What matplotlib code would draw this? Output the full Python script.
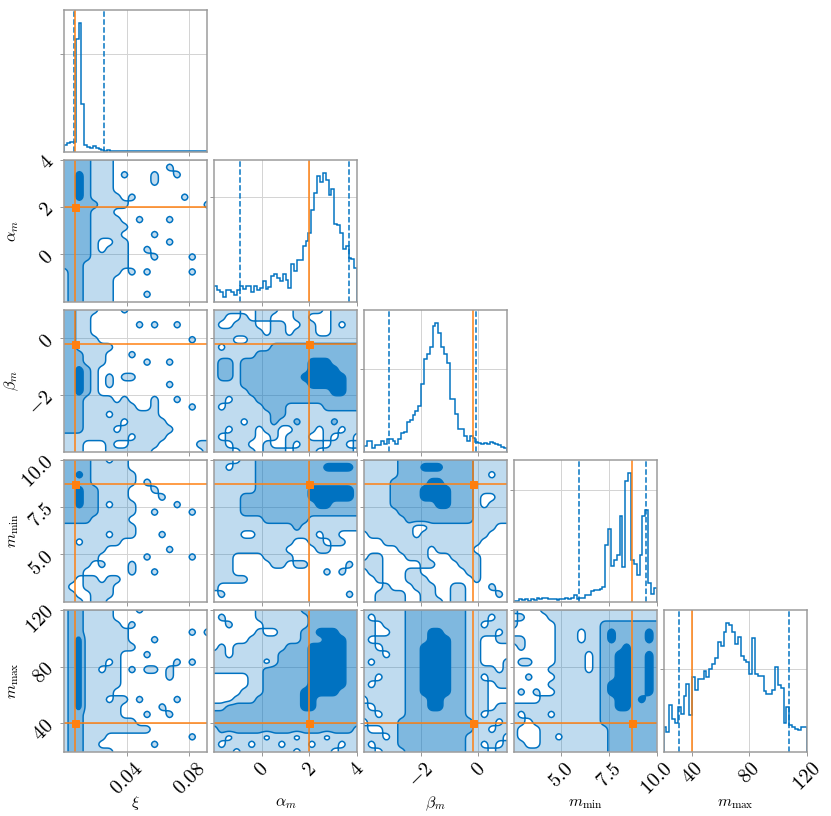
import numpy as np
import matplotlib
matplotlib.use("Agg")
import matplotlib.pyplot as plt
from matplotlib.colors import to_rgba

plt.rcParams['mathtext.fontset'] = 'cm'
plt.rcParams['font.family'] = ['DejaVu Serif']

# ---------------- data ----------------
labels = [r"$\xi$", r"$\alpha_m$", r"$\beta_m$", r"$m_{\mathrm{min}}$", r"$m_{\mathrm{max}}$"]
ranges = [(0.0, 0.0915), (-2.0, 4.0), (-4.0, 1.0), (2.5, 10.0), (20.0, 120.0)]
truths = [0.0071, 2.0, -0.2, 8.7, 40.0]
quantile_lo = [0.0062, -0.91, -3.12, 5.94, 31.1]
quantile_hi = [0.0253, 3.66, -0.08, 9.46, 107.6]
ticks = [[0.04, 0.08], [0, 2, 4], [-2, 0], [5.0, 7.5, 10.0], [40, 80, 120]]
tick_labels = [["0.04", "0.08"], ["0", "2", "4"], ["-2", "0"], ["5.0", "7.5", "10.0"], ["40", "80", "120"]]

hist_xi = [5.2, 6.5, 7.3, 7.8, 87, 100, 36.9, 5.2, 3.9, 3.1, 4.2, 3.1, 1.8, 1.3, 1.0, 1.3, 0.8, 1.0, 0.5, 0.8,
           0.5, 0.5, 0.3, 0.5, 0.8, 0.3, 0.5, 0.3, 0.3, 0.5, 0.3, 0.5, 0.8, 0.3, 0.5, 0.3, 0.3, 0.3, 0.3, 0.5,
           0.3, 0.3, 0.3, 0.5, 0.3, 0.3, 0.3, 0.3, 0.5, 0.3]
hist_alpha = [12.4, 9, 7.7, 3.9, 9, 9, 7.7, 5.2, 9, 12.4, 10.3, 12.4, 12.4, 7.7, 12.4, 9, 10.8, 16.5, 10.3, 11.6,
              20, 21.6, 18.6, 16, 21.9, 16.8, 10.8, 29.6, 23.7, 32.2, 32.2, 43.3, 46.9, 53.6, 70.9, 84.3, 97.4,
              92.8, 100, 94, 83, 87.1, 60.6, 59.3, 53.6, 40.7, 43.3, 34, 33, 26.3]
hist_beta = [4.6, 8.5, 8.5, 2.6, 5.2, 5.2, 8.5, 5.9, 10.3, 9.8, 8.5, 5.9, 10.3, 14.9, 15.5, 22.7, 24.5, 28.4, 31.4,
             35.3, 52.3, 72.2, 76, 81.2, 97.4, 100, 92.3, 81.2, 76, 69, 40.7, 40.7, 29.6, 17.5, 17.5, 12.4, 8.2,
             12.4, 11, 7.7, 7.2, 6.2, 7.2, 5.7, 7.7, 7.2, 5.7, 5.2, 4.1, 2.6]
hist_mmin = [1, 1, 2, 1.3, 1.8, 1, 1.8, 1.5, 3, 2, 2.6, 2.6, 2, 2, 1.8, 1.5, 1.8, 2, 2.6, 2, 3, 5.6, 2, 2.6, 2.6,
             5.1, 5.1, 8.2, 8.9, 8.9, 9.7, 11.5, 43.9, 56.1, 28, 32.7, 36.2, 66.8, 26.8, 93.9, 100, 32.7, 29.3,
             20.9, 36.2, 66.8, 71.4, 14.8, 6.4, 10.7]
hist_mmax = [19.5, 15.4, 35.9, 25.6, 22.6, 34.9, 29, 43.6, 52.8, 28.2, 57.9, 47.7, 56.4, 56.4, 62.3, 57.9, 64.1,
             68.2, 72.6, 85.4, 82, 93, 100, 98.2, 93, 83.6, 89.2, 74.4, 70.8, 69.2, 60.5, 88, 60.5, 58.5, 58.5,
             46.9, 45.1, 45.1, 47.7, 65.6, 52, 49.5, 22, 34.9, 20.5, 19.5, 17.9, 16.9, 19.5, 19.5]
hist_ytick = [76, 81.4, 64.5, 86.7, 64.4]

# credible-region level maps (0 = outside, 1/2/3 = increasing density), top row first
grid_xi_alpha = [
    "22221110000000000000", "22221110000000100000", "22321110100010010000", "22321110000010000000",
    "22321110000000000000", "22321111010000001000", "22222111100000000001", "22221110000000000000",
    "22221111001000100000", "22221111100000000000", "22221111000010000000", "22221001100000100000",
    "22221011100100000000", "22221111100010000100", "22211111100000000000", "12211111010100000100",
    "12211110000000000000", "12211110000000000000", "12211110000100000000", "12211110000000000000"]
grid_xi_beta = [
    "22111000100000000000", "22110000000000000000", "22110000001010010000", "22110000000000000000",
    "22111000000000000100", "22111110000000000000", "22211100010000000000", "22211100000100100000",
    "22321000000000000000", "22321010110000000000", "22321010000000100000", "22321000000000000000",
    "22211110100010010000", "22211111110010000100", "22211101111110000000", "22211111011111000000",
    "22211110111111100000", "11111111101111000000", "11100010011110000011", "11100011111100000001"]
grid_alpha_beta = [
    "11110011100111101111", "11001011000110001111", "10011100110011001011", "11111110110111001111",
    "11100111111111111111", "10111111222222222222", "11111122222222222222", "12212222222223332222",
    "12212222222223333222", "12212222222233333322", "11112222222223333322", "11111222222222223322",
    "11011122222222222222", "10111112221111122222", "11111111221111111111", "11110111211211112111",
    "11011101100111011011", "10111100101110010110", "11011001001011101101", "11101101110111011110"]
grid_xi_mmin = [
    "22221101100000000000", "22221111100000000000", "22321111110000000000", "22221111110100000000",
    "22322111100010000000", "22322111100001000000", "22322101110000010000", "22222111110010000100",
    "22221111100000000000", "11111111110000000000", "11111101110001000000", "11011111000000000000",
    "11111100000000100000", "11111000000100000100", "11110100010000000000", "11100000010010000000",
    "11011011000000000000", "10011110000000000000", "11001110000000000000", "11101100000000000000"]
grid_alpha_mmin = [
    "11101122222222222222", "11011122222222233332", "11111122222222222222", "11111122222222222222",
    "11111122222223333332", "11112222222223333332", "11112222222222332222", "11112222222222222222",
    "11111112222221111111", "11111111111211111111", "11110011111111011000", "11111111111001101100",
    "11111111110000110000", "11100001111000000000", "11100000110110000010", "11100000000000010100",
    "11111000000000000000", "10000000000000000000", "01000000000000000010", "00000000000000000000"]
grid_beta_mmin = [
    "11111222222222211111", "11111222333222211111", "11111222222222211011", "11112222233222211111",
    "11112222333322211111", "11112222333322210011", "11112222223322210111", "11111222222222211111",
    "11111122222222211111", "11111110011111111100", "01111110111111111000", "00011111111111110000",
    "00000111101111100000", "01100011100011110000", "11100000110001110000", "01100011000000110000",
    "00100011100000010000", "00010001110011000100", "00111100110011000010", "00111100111011000000"]
grid_xi_mmax = [
    "12211110001000000000", "12211110000000000000", "12211111010000000000", "12211111100000000101",
    "12311111100010000000", "12311111110000000000", "12311111000100000000", "12311101000000010100",
    "12311011010110100000", "12311111000000100000", "12311111000000000000", "12311110000000000000",
    "12311101101000010000", "12311111000001000000", "12211111000100100000", "12211111110000000000",
    "12211111111100000000", "12211100000000000100", "12211000000010000000", "12211110000000000000"]
grid_alpha_mmax = [
    "00000011111122222222", "01000011111112222222", "00100001111112222222", "00000010011122333222",
    "00000111111122233322", "01011111112223333322", "11011111122223333322", "11111110122223333322",
    "11111112222223333322", "00000112222223333322", "00000112222223333322", "00001112222233333222",
    "00011122222233222222", "11222222222233222222", "22222222222222222222", "22222222222222222222",
    "12222222222222222221", "11011110111011101111", "10111011101110111011", "11101111111011110111"]
grid_beta_mmax = [
    "11111122222222111111", "10111122222222111011", "11011122222222110111", "11001122233222111101",
    "10111122233322110011", "11011122333322110000", "11101122333322110000", "10111122333322110001",
    "11111122333322111101", "11011122333322110111", "10111122333322111011", "11111122333322111000",
    "01111122233222111000", "10111122233222111011", "11011122222222110111", "01111222222222211101",
    "10011222222222211011", "11101222222222111110", "10111222222222110101", "11011122222222111011"]
grid_mmin_mmax = [
    "10001111111111111111", "01000111111111111111", "10000011111122222222", "00000011101123222232",
    "11000011101123222232", "01000011111122232222", "00000011110122332232", "01100011110122332232",
    "00000111110122332232", "00100011111122332232", "00000111111123332232", "01010011111123332232",
    "00001111111122332322", "11111111111122332222", "10111011111122222222", "11011111111122222222",
    "10001111111112222222", "10001101111112222222", "11001111111112222222", "11111111111112222222"]

hists = [hist_xi, hist_alpha, hist_beta, hist_mmin, hist_mmax]
grids = {(1, 0): grid_xi_alpha, (2, 0): grid_xi_beta, (2, 1): grid_alpha_beta,
         (3, 0): grid_xi_mmin, (3, 1): grid_alpha_mmin, (3, 2): grid_beta_mmin,
         (4, 0): grid_xi_mmax, (4, 1): grid_alpha_mmax, (4, 2): grid_beta_mmax, (4, 3): grid_mmin_mmax}

# ---------------- style ----------------
BLUE = "#0072C1"
ORANGE = "#ff7f0e"
SPINE = "#9a9a9a"
GRID = "#d4d4d4"
fill_colors = [to_rgba(BLUE, 0.25), to_rgba(BLUE, 0.5), to_rgba(BLUE, 1.0)]

W, H = 831, 816
fig = plt.figure(figsize=(W / 72, H / 72), dpi=72)
left0, colstep, aw = 64.3, 149.8, 143.0
top0, rowstep, ah = 9.8, 150.0, 142.0
K = 5


def refine(Z, f=5, sigma=0.2):
    """Linear upsampling plus very light smoothing so level boundaries are rounded."""
    ny, nx = Z.shape
    xs = np.linspace(0, nx - 1, (nx - 1) * f + 1)
    ys = np.linspace(0, ny - 1, (ny - 1) * f + 1)
    Zx = np.array([np.interp(xs, np.arange(nx), row) for row in Z])
    Zxy = np.array([np.interp(ys, np.arange(ny), col) for col in Zx.T]).T
    s = sigma * f
    r = int(3 * s) + 1
    k = np.exp(-0.5 * (np.arange(-r, r + 1) / s) ** 2)
    k /= k.sum()
    P = np.pad(Zxy, r, mode='edge')
    P = np.apply_along_axis(lambda v: np.convolve(v, k, mode='valid'), 1, P)
    P = np.apply_along_axis(lambda v: np.convolve(v, k, mode='valid'), 0, P)
    return P


def make_ax(i, j):
    l = left0 + j * colstep
    t = top0 + i * rowstep
    return fig.add_axes([l / W, 1 - (t + ah) / H, aw / W, ah / H])


def style(ax, i, j, diag=False):
    for s in ax.spines.values():
        s.set_color(SPINE)
        s.set_linewidth(1.5)
    ax.set_axisbelow(True)
    ax.grid(True, color=GRID, lw=1.0)
    ax.tick_params(direction='out', length=4, width=1, color=SPINE, labelsize=20, pad=3)
    ax.set_xticks(ticks[j])
    if i == K - 1:
        ax.set_xticklabels(["$%s$" % s for s in tick_labels[j]], rotation=45)
        ax.set_xlabel(labels[j], fontsize=16)
        ax.xaxis.set_label_coords(0.5, -0.3)
    else:
        ax.set_xticklabels([])
    if not diag:
        ax.set_yticks(ticks[i])
        if j == 0:
            ax.set_yticklabels(["$%s$" % s for s in tick_labels[i]], rotation=45)
            ax.set_ylabel(labels[i], fontsize=16)
            ax.yaxis.set_label_coords(-0.3, 0.5)
        else:
            ax.set_yticklabels([])


for i in range(K):
    for j in range(i + 1):
        ax = make_ax(i, j)
        if i == j:
            vals = np.array(hists[j], dtype=float)
            edges = np.linspace(ranges[j][0], ranges[j][1], len(vals) + 1)
            ax.stairs(vals, edges, color=BLUE, lw=1.5)
            ax.axvline(quantile_lo[j], ls='--', color=BLUE, lw=1.5)
            ax.axvline(quantile_hi[j], ls='--', color=BLUE, lw=1.5)
            ax.axvline(truths[j], color=ORANGE, lw=1.5)
            ax.set_xlim(ranges[j])
            ax.set_ylim(0, 1.1 * vals.max())
            style(ax, i, j, diag=True)
            ax.set_yticks([hist_ytick[j]])
            ax.set_yticklabels([])
        else:
            g = grids[(i, j)]
            Z = np.array([[int(c) for c in row] for row in g], dtype=float)[::-1]
            Zf = refine(Z)
            x = np.linspace(ranges[j][0], ranges[j][1], Zf.shape[1])
            y = np.linspace(ranges[i][0], ranges[i][1], Zf.shape[0])
            ax.contourf(x, y, Zf, levels=[0.5, 1.5, 2.5, 3.5], colors=fill_colors, antialiased=True)
            ax.contour(x, y, Zf, levels=[0.5, 1.5, 2.5], colors=BLUE, linewidths=1.5)
            ax.axvline(truths[j], color=ORANGE, lw=1.5)
            ax.axhline(truths[i], color=ORANGE, lw=1.5)
            ax.plot([truths[j]], [truths[i]], 's', color=ORANGE, ms=7)
            ax.set_xlim(ranges[j])
            ax.set_ylim(ranges[i])
            style(ax, i, j)

fig.savefig("out.png", dpi=72)
